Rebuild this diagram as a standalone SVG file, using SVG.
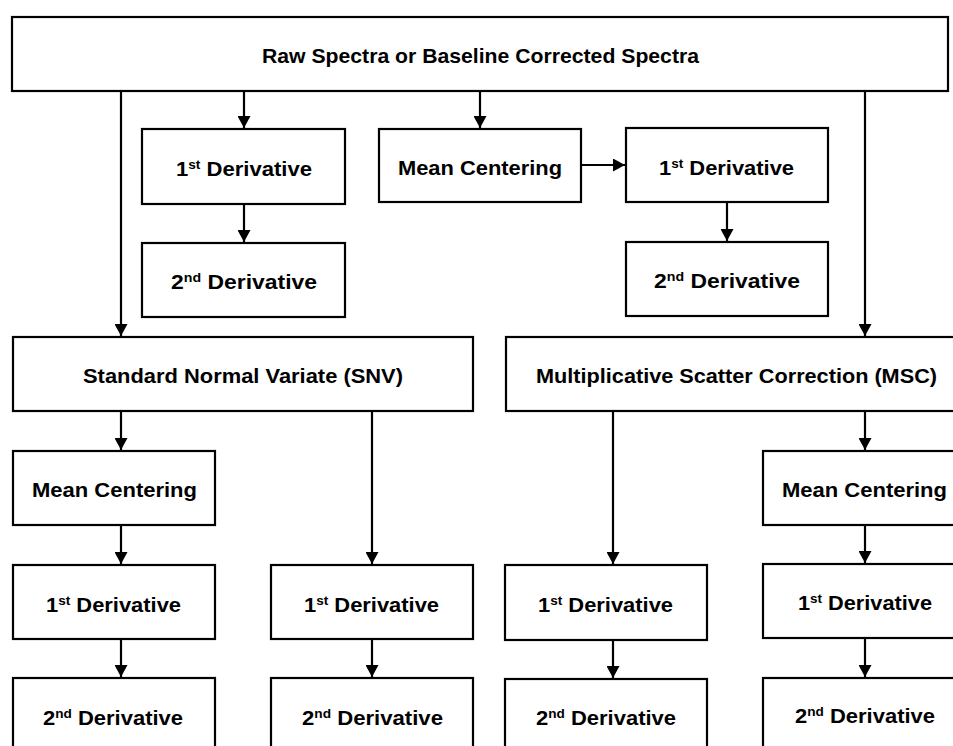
<svg xmlns="http://www.w3.org/2000/svg" width="953" height="746" viewBox="0 0 953 746">
<style>
rect.box{fill:#fff;stroke:#000;stroke-width:2.2}
text{font-family:"Liberation Sans",Arial,sans-serif;font-weight:bold;font-size:21px;fill:#000}
tspan.sup{font-size:13px}
.conn line{stroke:#000;stroke-width:2.2;marker-end:url(#ah)}
</style>
<defs>
<marker id="ah" viewBox="0 0 12 13" refX="12" refY="6.5" markerWidth="12" markerHeight="13" markerUnits="userSpaceOnUse" orient="auto">
<path d="M0,0 L12,6.5 L0,13 z" fill="#000"/>
</marker>
</defs>
<rect width="953" height="746" fill="#fff"/>
<g class="conn">
<line x1="121" y1="91" x2="121" y2="336"/>
<line x1="244" y1="91" x2="244" y2="128"/>
<line x1="244" y1="204" x2="244" y2="242"/>
<line x1="480" y1="91" x2="480" y2="128"/>
<line x1="581" y1="165" x2="625" y2="165"/>
<line x1="727" y1="202" x2="727" y2="241"/>
<line x1="865" y1="91" x2="865" y2="336"/>
<line x1="121" y1="411" x2="121" y2="450"/>
<line x1="121" y1="525" x2="121" y2="564"/>
<line x1="121" y1="639" x2="121" y2="677"/>
<line x1="372" y1="411" x2="372" y2="564"/>
<line x1="372" y1="639" x2="372" y2="677"/>
<line x1="613" y1="411" x2="613" y2="564"/>
<line x1="613" y1="640" x2="613" y2="678"/>
<line x1="865" y1="411" x2="865" y2="450"/>
<line x1="865" y1="525" x2="865" y2="563"/>
<line x1="865" y1="638" x2="865" y2="677"/>
</g>
<g id="raw"><rect class="box" x="12" y="17" width="936" height="74"/><text x="262" y="63" textLength="437" lengthAdjust="spacingAndGlyphs">Raw Spectra or Baseline Corrected Spectra</text></g>
<g id="d1a"><rect class="box" x="142" y="129" width="203" height="75"/><text x="176" y="176" textLength="136" lengthAdjust="spacingAndGlyphs">1<tspan class="sup" dy="-7">st</tspan><tspan dy="7"> Derivative</tspan></text></g>
<g id="d2a"><rect class="box" x="142" y="243" width="203" height="74"/><text x="171" y="289" textLength="146" lengthAdjust="spacingAndGlyphs">2<tspan class="sup" dy="-7">nd</tspan><tspan dy="7">  Derivative</tspan></text></g>
<g id="mc0"><rect class="box" x="379" y="129" width="202" height="73"/><text x="398" y="175" textLength="164" lengthAdjust="spacingAndGlyphs">Mean Centering</text></g>
<g id="d1b"><rect class="box" x="626" y="128" width="202" height="74"/><text x="659" y="175" textLength="135" lengthAdjust="spacingAndGlyphs">1<tspan class="sup" dy="-7">st</tspan><tspan dy="7"> Derivative</tspan></text></g>
<g id="d2b"><rect class="box" x="626" y="242" width="202" height="74"/><text x="654" y="288" textLength="146" lengthAdjust="spacingAndGlyphs">2<tspan class="sup" dy="-7">nd</tspan><tspan dy="7">  Derivative</tspan></text></g>
<g id="snv"><rect class="box" x="13" y="337" width="460" height="74"/><text x="83" y="383" textLength="320" lengthAdjust="spacingAndGlyphs">Standard Normal Variate (SNV)</text></g>
<g id="msc"><rect class="box" x="506" y="337" width="460" height="74"/><text x="536" y="383" textLength="401" lengthAdjust="spacingAndGlyphs">Multiplicative Scatter Correction (MSC)</text></g>
<g id="mc1"><rect class="box" x="13" y="451" width="202" height="74"/><text x="32" y="497" textLength="165" lengthAdjust="spacingAndGlyphs">Mean Centering</text></g>
<g id="d1c"><rect class="box" x="13" y="565" width="202" height="74"/><text x="46" y="612" textLength="135" lengthAdjust="spacingAndGlyphs">1<tspan class="sup" dy="-7">st</tspan><tspan dy="7"> Derivative</tspan></text></g>
<g id="d2c"><rect class="box" x="13" y="678" width="202" height="80"/><text x="43" y="725" textLength="140" lengthAdjust="spacingAndGlyphs">2<tspan class="sup" dy="-7">nd</tspan><tspan dy="7"> Derivative</tspan></text></g>
<g id="d1d"><rect class="box" x="271" y="565" width="202" height="74"/><text x="304" y="612" textLength="135" lengthAdjust="spacingAndGlyphs">1<tspan class="sup" dy="-7">st</tspan><tspan dy="7"> Derivative</tspan></text></g>
<g id="d2d"><rect class="box" x="271" y="678" width="202" height="80"/><text x="302" y="725" textLength="141" lengthAdjust="spacingAndGlyphs">2<tspan class="sup" dy="-7">nd</tspan><tspan dy="7"> Derivative</tspan></text></g>
<g id="d1e"><rect class="box" x="505" y="565" width="202" height="75"/><text x="538" y="612" textLength="135" lengthAdjust="spacingAndGlyphs">1<tspan class="sup" dy="-7">st</tspan><tspan dy="7"> Derivative</tspan></text></g>
<g id="d2e"><rect class="box" x="505" y="679" width="202" height="80"/><text x="536" y="725" textLength="140" lengthAdjust="spacingAndGlyphs">2<tspan class="sup" dy="-7">nd</tspan><tspan dy="7"> Derivative</tspan></text></g>
<g id="mc2"><rect class="box" x="763" y="451" width="202" height="74"/><text x="782" y="497" textLength="165" lengthAdjust="spacingAndGlyphs">Mean Centering</text></g>
<g id="d1f"><rect class="box" x="763" y="564" width="202" height="74"/><text x="798" y="610" textLength="134" lengthAdjust="spacingAndGlyphs">1<tspan class="sup" dy="-7">st</tspan><tspan dy="7"> Derivative</tspan></text></g>
<g id="d2f"><rect class="box" x="763" y="678" width="202" height="80"/><text x="795" y="723" textLength="140" lengthAdjust="spacingAndGlyphs">2<tspan class="sup" dy="-7">nd</tspan><tspan dy="7"> Derivative</tspan></text></g>
</svg>
